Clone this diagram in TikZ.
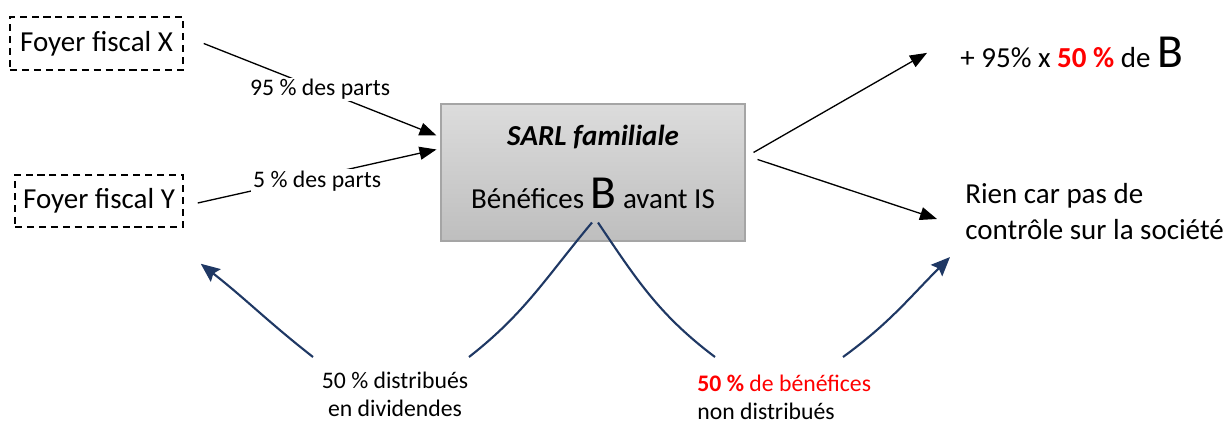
\documentclass[tikz,border=0pt]{standalone}
\usepackage{fontspec}
\setmainfont{Carlito}
\usetikzlibrary{arrows.meta}

\definecolor{bleunuit}{RGB}{31,56,100}
\definecolor{grisbord}{RGB}{165,165,165}
\definecolor{grishaut}{RGB}{220,220,220}
\definecolor{grisbas}{RGB}{190,190,190}
\definecolor{rouge}{RGB}{255,0,0}

\newcommand{\grand}{\fontsize{16.5}{20.5}\selectfont}
\newcommand{\petit}{\fontsize{13.5}{16}\selectfont}
\newcommand{\grosB}{{\fontsize{27}{27}\selectfont B}}

\begin{document}
\begin{tikzpicture}[
    foyer/.style={draw, line width=0.85pt, dash pattern=on 4pt off 2.8pt,
      inner sep=0pt, font=\grand},
    part/.style={fill=white, inner sep=1pt, font=\petit},
    fleche/.style={line width=0.75pt, -{Triangle[length=0.34cm,width=0.26cm]}},
    courbe/.style={bleunuit, line width=1.2pt},
    flechebleue/.style={courbe, -{Stealth[length=0.38cm,width=0.32cm,inset=0.06cm]}}
  ]
    \useasboundingbox (0,0) rectangle (24.5,-8.46);

    % foyers
    \node [foyer, minimum width=3.46cm, minimum height=1.06cm] (fx) at (1.93,-0.87) {Foyer fiscal X};
    \node [foyer, minimum width=3.36cm, minimum height=1.04cm] (fy) at (1.98,-4.02) {Foyer fiscal Y};

    % la societe
    \node [draw=grisbord, line width=0.6pt, top color=grishaut, bottom color=grisbas,
      minimum width=6.08cm, minimum height=2.74cm] (sarl) at (11.86,-3.45) {};
    \node [font=\grand\bfseries\itshape] (titre) at (11.86,-2.74) {SARL familiale};
    \node [font=\grand, anchor=base] (benef) at (11.86,-4.18) {Bénéfices \grosB{} avant IS};

    % resultats
    \node [font=\grand, anchor=base west, inner sep=0pt] (r1) at (19.2,-1.36)
      {+ 95\% x \textbf{\textcolor{rouge}{50 \%}} de \grosB};
    \node [font=\grand, align=left, anchor=north west, inner sep=0pt] (r2) at (19.3,-3.66)
      {Rien car pas de\\contrôle sur la société};

    % etiquettes du bas
    \node [font=\petit, align=center, inner sep=0pt] (div) at (7.9,-7.88)
      {50 \% distribués\\en dividendes};
    \node [font=\petit, align=left, anchor=west, inner sep=0pt] (nd) at (13.94,-7.94)
      {\textcolor{rouge}{\textbf{50 \%} de bénéfices}\\non distribués};

    % parts
    \draw [fleche] ([xshift=0.4cm]fx.east) -- node [part] {95 \% des parts}
      ([shift={(-0.08,-0.64)}]sarl.north west);
    \draw [fleche] ([shift={(0.28,-0.04)}]fy.east) -- node [part, yshift=-0.1cm] {5 \% des parts}
      ([shift={(-0.08,-0.92)}]sarl.north west);

    % vers les resultats
    \draw [fleche] ([shift={(0.16,-0.98)}]sarl.north east) -- ([xshift=-0.66cm]r1.west);
    \draw [fleche] ([shift={(0.24,-1.12)}]sarl.north east) -- ([shift={(-0.56,-0.72)}]r2.north west);

    % repartition du benefice
    \coordinate (haut) at ([yshift=0.38cm]sarl.south);
    \coordinate (divd) at (9.38,-7.14);
    \coordinate (divg) at (6.26,-7.14);
    \coordinate (ndg) at (14.3,-7.14);
    \coordinate (ndd) at (16.86,-7.14);
    \draw [courbe] ([xshift=-0.02cm]haut) to [out=-130, in=38] (divd);
    \draw [flechebleue] (divg) to [out=142, in=-38] ([shift={(0.34,-0.72)}]fy.south east);
    \draw [courbe] ([xshift=0.1cm]haut) to [out=-56, in=143] (ndg);
    \draw [flechebleue] (ndd) to [out=36, in=-135] ([shift={(-0.3,-0.34)}]r2.south west);
\end{tikzpicture}
\end{document}
